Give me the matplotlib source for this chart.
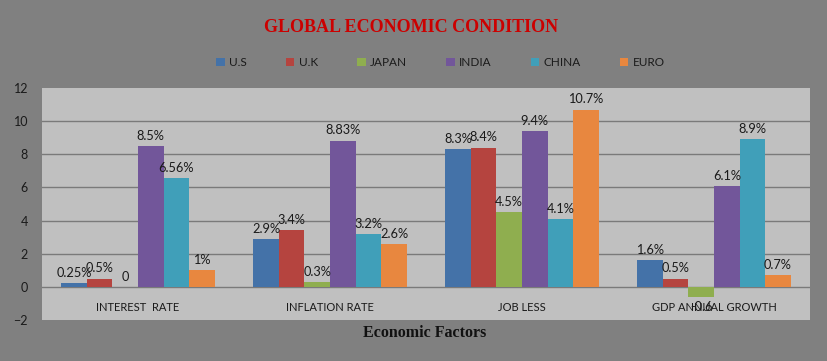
import numpy as np
import matplotlib
matplotlib.use("Agg")
import matplotlib.pyplot as plt

# chart data
categories = ["INTEREST  RATE", "INFLATION RATE", "JOB LESS", "GDP ANNUAL GROWTH"]
series = ["U.S", "U.K", "JAPAN", "INDIA", "CHINA", "EURO"]
us = [0.25, 2.9, 8.3, 1.6]
uk = [0.5, 3.4, 8.4, 0.5]
japan = [0, 0.3, 4.5, -0.6]
india = [8.5, 8.83, 9.4, 6.1]
china = [6.56, 3.2, 4.1, 8.9]
euro = [1, 2.6, 10.7, 0.7]
labels_us = ["0.25%", "2.9%", "8.3%", "1.6%"]
labels_uk = ["0.5%", "3.4%", "8.4%", "0.5%"]
labels_japan = ["0", "0.3%", "4.5%", "-0.6"]
labels_india = ["8.5%", "8.83%", "9.4%", "6.1%"]
labels_china = ["6.56%", "3.2%", "4.1%", "8.9%"]
labels_euro = ["1%", "2.6%", "10.7%", "0.7%"]
yticks = [-2, 0, 2, 4, 6, 8, 10, 12]

values = [us, uk, japan, india, china, euro]
labels = [labels_us, labels_uk, labels_japan, labels_india, labels_china, labels_euro]
colors = ["#4472A8", "#B5443F", "#8FAE4F", "#72569A", "#409FB9", "#E8873F"]

plt.rcParams["font.family"] = ["Lato", "DejaVu Sans"]

fig = plt.figure(figsize=(8.27, 3.61), dpi=100, facecolor="#808080")
ax = fig.add_axes([0.0508, 0.1136, 0.9286, 0.6427])
ax.set_facecolor("#c0c0c0")

x = np.arange(len(categories))
width = 0.8 / len(series)
for i, (vals, labs, c, name) in enumerate(zip(values, labels, colors, series)):
    pos = x - 0.4 + width * (i + 0.5)
    ax.bar(pos, vals, width, color=c, label=name, zorder=3)
    for p, v, t in zip(pos, vals, labs):
        if v < 0:
            ax.annotate(t, (p, v), xytext=(0, -3), textcoords="offset points",
                        ha="center", va="top", fontsize=9.2, color="#1a1a1a", zorder=4)
        else:
            ax.annotate(t, (p, v), xytext=(0, 3), textcoords="offset points",
                        ha="center", va="bottom", fontsize=9.2, color="#1a1a1a", zorder=4)

ax.set_xlim(-0.5, len(categories) - 0.5)
ax.set_ylim(-2, 12)
ax.set_yticks(yticks)
ax.tick_params(axis="y", length=0, pad=10, labelsize=9, labelcolor="#1a1a1a")
ax.set_xticks([])
for t in yticks[1:-1]:
    ax.axhline(t, color="#7a7a7a", lw=1, zorder=1)
for s in ax.spines.values():
    s.set_visible(False)

# category labels sit inside the plot area, below zero
for xi, cat in zip(x, categories):
    ax.text(xi, -1.25, cat, ha="center", va="center", fontsize=8, color="#1a1a1a", zorder=2)

fig.text(0.4976, 0.925, "GLOBAL ECONOMIC CONDITION", ha="center", va="center",
         fontsize=13, fontweight="bold", color="#cc0000", family="Liberation Serif")
fig.text(0.514, 0.0776, "Economic Factors", ha="center", va="center",
         fontsize=11.5, fontweight="bold", color="#111111", family="Liberation Serif")

leg = fig.legend(loc="center", bbox_to_anchor=(0.533, 0.8255), ncol=6, frameon=False,
                 fontsize=8.5, handlelength=0.7, handleheight=0.7, handletextpad=0.4,
                 columnspacing=3.3)
for t in leg.get_texts():
    t.set_color("#1a1a1a")

fig.savefig("out.png", dpi=100, facecolor=fig.get_facecolor())
